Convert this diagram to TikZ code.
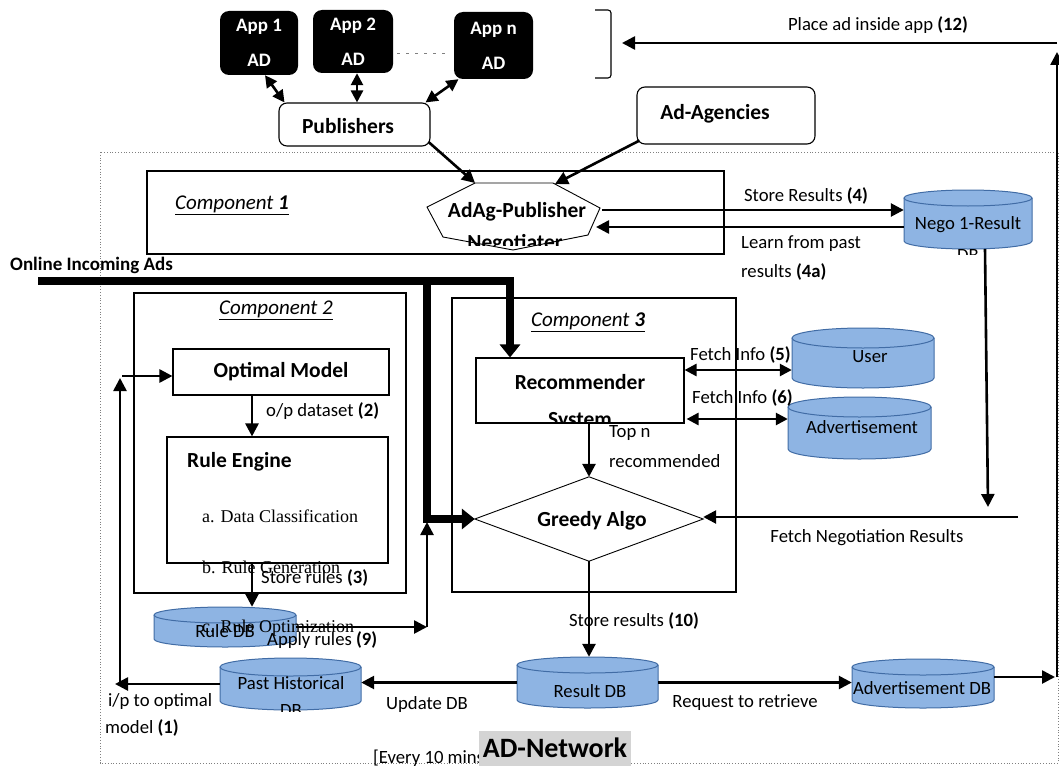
\documentclass[tikz,border=0pt]{standalone}
\usepackage{fontspec}
\setmainfont{Carlito}
\newfontfamily\timesf{Liberation Serif}
\usetikzlibrary{arrows.meta}
\newcommand\fs[1]{\fontsize{#1}{#1}\selectfont}
\definecolor{dbfillc}{RGB}{142,180,227}
\definecolor{dblinec}{RGB}{65,108,165}
\tikzset{
  box/.style={draw, line width=1.1pt, inner sep=0pt},
  rbox/.style={draw, line width=1.1pt, rounded corners=8pt, inner sep=0pt},
  appbox/.style={fill=black, rounded corners=9pt, inner sep=0pt, text=white, align=center, font=\fontsize{19}{35}\selectfont\bfseries},
  arr/.style={line width=2.6pt, -{Triangle[length=13pt,width=13pt]}},
  darr/.style={line width=2.6pt, {Triangle[length=12pt,width=12pt]}-{Triangle[length=12pt,width=12pt]}},
  fatarr/.style={line width=8pt, line join=miter, -{Triangle[length=13pt,width=20pt]}},
  lbl/.style={inner sep=0pt, font=\fs{18.7}},
  blbl/.style={inner sep=0pt, font=\fs{21.5}\bfseries},
  tlbl/.style={inner sep=0pt, font=\timesf\fs{18}},
  comp/.style={inner sep=0pt, font=\fs{21}\itshape},
  dbfill/.style={fill=dbfillc},
  dbline/.style={draw=dblinec, line width=1pt},
}
% name, cx, top, bottom, rx, ry
\newcommand\dbcyl[6]{%
  \fill[dbfill] (#2-#5,#3+#6) -- (#2-#5,#4-#6) arc[start angle=180,end angle=360,x radius=#5pt,y radius=#6pt] -- (#2+#5,#3+#6) arc[start angle=0,end angle=180,x radius=#5pt,y radius=#6pt] -- cycle;
  \draw[dbline] (#2-#5,#3+#6) -- (#2-#5,#4-#6) arc[start angle=180,end angle=360,x radius=#5pt,y radius=#6pt] -- (#2+#5,#3+#6);
  \draw[dbline] (#2,#3+#6) ellipse[x radius=#5pt,y radius=#6pt];
  \node[inner sep=0pt, minimum width={2*#5pt}, minimum height={(#4-#3)*1pt}] (#1) at ({#2},{(#3+#4)/2}) {};
}
\begin{document}
\begin{tikzpicture}[x=1pt,y=-1pt]
\useasboundingbox (0,0) rectangle (1059,765);
% outer dotted AD-Network border
\draw[gray, dotted, line width=0.8pt] (100,152) rectangle (1058,763);

% apps
\node[appbox, minimum width=78pt, minimum height=64pt] (app1) at (259,43) {App 1\\AD};
\node[appbox, minimum width=80pt, minimum height=63pt] (app2) at (353,41.5) {App 2\\AD};
\node[appbox, minimum width=79pt, minimum height=67pt] (appn) at (493.5,45.5) {App n\\AD};
\draw[gray, dash pattern=on 3pt off 6pt, line width=0.6pt] ([xshift=4pt,yshift=-11.5pt]app2.east) -- ([xshift=-4pt,yshift=-7.5pt]appn.west);

% bracket
\draw[line width=1.1pt, rounded corners=3pt] (595,10) -- (611,10) -- (611,78) -- (595,78);
\coordinate (brk) at (622,43);

% publishers, agencies
\node[rbox, minimum width=151pt, minimum height=43pt] (pub) at (354.5,124.5) {};
\node[blbl] at (348,126) {Publishers};
\node[rbox, minimum width=178pt, minimum height=57pt] (adag) at (726,115.5) {};
\node[blbl] at (715,114) {Ad-Agencies};

\draw[darr] ([xshift=6pt]app1.south) -- ([xshift=-70pt]pub.north);
\draw[darr] ([xshift=4pt]app2.south) -- ([xshift=2.5pt]pub.north);
\draw[darr] ([xshift=-35pt]appn.south) -- ([xshift=-5pt]pub.north east);

% component 1
\node[box, minimum width=577pt, minimum height=83pt] (c1) at (435.5,212.5) {};
\node[comp] at (232,205) {\underline{Component \textbf{1}}};

% negotiator heptagon
\coordinate (negotl) at (475,183);
\coordinate (negotr) at (555,184);
\coordinate (negor) at (602,210);
\coordinate (negol) at (596,227);
\fill[white] (475,183) -- (553,183) -- (600,208) -- (588,235) -- (513,250) -- (443,237) -- (427,207) -- cycle;
\node[blbl] (nego) at (517,212) {AdAg-Publisher};
\begin{scope}
  \clip (420,200) rectangle (610,245.5);
  \node[blbl, anchor=base] at (515,249) {Negotiater};
\end{scope}
\draw[line width=0.9pt] (475,183) -- (553,183) -- (600,208) -- (588,235) -- (513,250) -- (443,237) -- (427,207) -- cycle;

\draw[arr] ([xshift=-2pt,yshift=-4pt]pub.east |- 0,138) -- (negotl);
\draw[arr] ([xshift=3pt,yshift=4pt]adag.south west) -- (negotr);

% Nego result DB
\dbcyl{negodb}{968}{190}{249}{64}{8}
\node[lbl] at (968,225) {Nego 1-Result};
\begin{scope}
  \clip (900,200) rectangle (1040,254);
  \node[lbl, anchor=base] at (968,261) {DB};
\end{scope}
\draw[arr] (negor) -- (negor -| negodb.west);
\draw[arr] (negodb.west |- negol) -- (negol);
\node[lbl] at (806,196) {Store Results \textbf{(4)}};
\node[lbl, anchor=west] at (741,244) {Learn from past};
\node[lbl, anchor=west] at (741,272) {results \textbf{(4a)}};

% Place ad inside app
\coordinate (rcorner) at (1057,43);
\coordinate (rtop) at (1057,52);
\coordinate (rbot) at (1057,677);
\coordinate (rtip) at (1055,677);
\draw[arr] (rcorner) -- (brk);
\node[lbl] at (878,25) {Place ad inside app \textbf{(12)}};

% component 2
\node[box, minimum width=272pt, minimum height=300pt] (c2) at (270,443) {};
\node[comp] at (276,310) {\underline{Component 2}};
\node[box, minimum width=216pt, minimum height=46pt, font=\fs{21.5}\bfseries] (opt) at (281,372) {Optimal Model};
\node[box, minimum width=221pt, minimum height=126pt] (re) at (277.5,500) {};
\node[blbl, anchor=west] at (187,462) {Rule Engine};
\node[tlbl, anchor=west] at (202,516) {a. Data Classification};
\draw[arr] ([xshift=-29pt]opt.south) -- ([xshift=-29pt]opt.south |- re.north);
\node[lbl, anchor=west] at (266,411) {o/p dataset \textbf{(2)}};

% Rule DB
\dbcyl{ruledb}{225}{607}{647}{71}{8}
\node[tlbl, anchor=west] at (202,567) {b. Rule Generation};
\node[lbl, anchor=west] at (261,578) {Store rules \textbf{(3)}};
\draw[arr] ([xshift=-25.5pt]re.south) -- ([xshift=-25.5pt]re.south |- ruledb.north);
\node[lbl] at (225,631) {Rule DB};
\node[tlbl, anchor=west] at (202,628) {c. Rule Optimization};
\coordinate (ar) at (427,627);
\coordinate (ar2) at (427,522);
\draw[arr] (ruledb.east) -- (ar);
\draw[arr] (ar) -- (ar2);
\node[lbl, anchor=west] at (267,640) {Apply rules \textbf{(9)}};

% component 3
\node[box, minimum width=284pt, minimum height=294pt] (c3) at (594,445) {};
\node[comp] at (588,322) {\underline{Component \textbf{3}}};
\node[box, minimum width=208pt, minimum height=65pt] (rec) at (580,390.5) {};
\node[blbl] at (580,382) {Recommender};
\begin{scope}
  \clip (480,400) rectangle (680,421);
  \node[blbl, anchor=base] at (580,426) {System};
\end{scope}
\node[minimum width=228pt, minimum height=84pt, inner sep=0pt] (greedy) at (589,519) {};
\draw[line width=0.9pt] (greedy.north) -- (greedy.east) -- (greedy.south) -- (greedy.west) -- cycle;
\node[blbl] at (592,521) {Greedy Algo};
\draw[arr] ([xshift=9pt]rec.south) -- ([xshift=9pt]rec.south |- greedy.north);
\node[lbl, anchor=west] at (609,433) {Top n};
\node[lbl, anchor=west] at (609,461) {recommended};

% User / Advertisement DBs
\dbcyl{userdb}{863}{328}{388}{71}{10}
\node[lbl] at (870,357) {User};
\dbcyl{advdb}{859.5}{397}{459}{71.5}{10}
\node[lbl] at (862,427) {Advertisement};
\draw[darr] ([yshift=20.5pt]rec.east) -- ([yshift=20.5pt]rec.east -| userdb.west);
\draw[darr] ([xshift=2pt,yshift=-28.5pt]rec.east) -- ([yshift=-28.5pt]rec.east -| advdb.west);
\node[lbl, anchor=west] at (690,355) {Fetch Info \textbf{(5)}};
\node[lbl, anchor=west] at (692,398) {Fetch Info \textbf{(6)}};

% online incoming ads
\node[inner sep=0pt, font=\fs{19}\bfseries, anchor=west] at (10,265) {Online Incoming Ads};
\coordinate (oia) at (38,281);
\coordinate (rectip) at ([xshift=-70pt]rec.north);
\coordinate (fork) at (427,281);
\draw[fatarr] (oia) -- (oia -| rectip) -- (rectip);
\draw[fatarr] (fork) -- (fork |- greedy.west) -- (greedy.west);

% negotiation results to greedy
\coordinate (nd1) at (988,507);
\coordinate (fn) at (1018,517);
\draw[arr] ([xshift=17pt]negodb.south) -- (nd1);
\draw[arr] (fn) -- (fn -| greedy.east);
\node[lbl] at (867,538) {Fetch Negotiation Results};

% Result DB
\dbcyl{resdb}{587.5}{657}{708}{70.5}{8}
\node[lbl] at (590,691) {Result DB};
\draw[arr] (greedy.south) -- (greedy.south |- resdb.north);
\node[lbl] at (634,621) {Store results \textbf{(10)}};

% Past historical DB
\dbcyl{past}{290.5}{658}{710}{70.5}{9}
\node[lbl] at (291,683) {Past Historical};
\begin{scope}
  \clip (215,690) rectangle (365,711);
  \node[lbl, anchor=base] at (291,716) {DB};
\end{scope}
\draw[arr] (resdb.west) -- (resdb.west -| past.east);
\node[lbl] at (427,705) {Update DB};

% i/p to optimal model
\coordinate (ip) at (115,684);
\coordinate (ipb) at (120,684);
\coordinate (ipt) at (120,378);
\coordinate (opin) at (122,376);
\draw[arr] (past.west) -- (ip);
\draw[arr] (ipb) -- (ipt);
\draw[arr] (opin) -- (opin -| opt.west);
\node[lbl, anchor=west] at (108,702) {i/p to optimal};
\node[lbl, anchor=west] at (105,728) {model \textbf{(1)}};

% Advertisement DB
\dbcyl{adb}{923}{659}{708}{71}{8}
\node[lbl] at (922,688) {Advertisement DB};
\draw[arr] (resdb.east) -- (resdb.east -| adb.west);
\node[lbl] at (745,703) {Request to retrieve};
\draw[arr] (adb.east |- rtip) -- (rtip);
\draw[arr] (rbot) -- (rtop);

% AD-Network title
\node[lbl, anchor=west] at (373,758) {[Every 10 mins};
\node[fill=black!17, minimum width=152pt, minimum height=35pt, inner sep=0pt, font=\fs{28}\bfseries] (adnet) at (555,748) {AD-Network};
\end{tikzpicture}
\end{document}
